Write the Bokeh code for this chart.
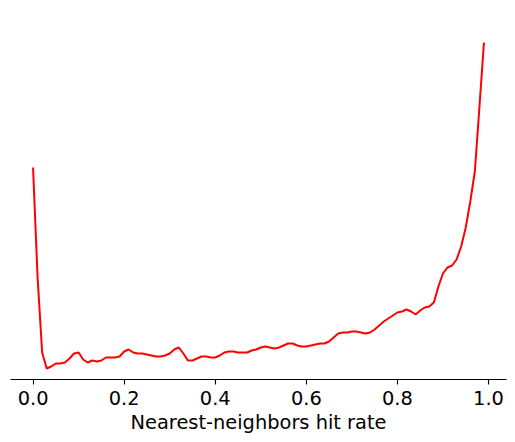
from bokeh.plotting import figure
from bokeh.models import Range1d, FixedTicker
from bokeh.embed import file_html
from bokeh.resources import INLINE

# hit rate bins (0.00 .. 0.99)
hit_rate = [round(i * 0.01, 2) for i in range(100)]
# density values
density = [
    2.12, 1.02, 0.27, 0.11, 0.13, 0.16, 0.16, 0.17, 0.21, 0.26,
    0.27, 0.20, 0.17, 0.19, 0.18, 0.19, 0.22, 0.22, 0.22, 0.23,
    0.28, 0.30, 0.27, 0.26, 0.26, 0.25, 0.24, 0.23, 0.23, 0.24,
    0.26, 0.30, 0.32, 0.26, 0.19, 0.19, 0.21, 0.23, 0.23, 0.22,
    0.22, 0.24, 0.27, 0.28, 0.28, 0.27, 0.27, 0.27, 0.29, 0.30,
    0.32, 0.33, 0.32, 0.31, 0.32, 0.34, 0.36, 0.36, 0.34, 0.33,
    0.33, 0.34, 0.35, 0.36, 0.36, 0.38, 0.42, 0.46, 0.47, 0.47,
    0.48, 0.48, 0.47, 0.46, 0.47, 0.50, 0.54, 0.58, 0.61, 0.64,
    0.67, 0.68, 0.70, 0.68, 0.65, 0.69, 0.72, 0.73, 0.77, 0.93,
    1.06, 1.12, 1.14, 1.20, 1.33, 1.52, 1.78, 2.08, 2.72, 3.37,
]
x_ticks = [0.0, 0.2, 0.4, 0.6, 0.8, 1.0]
x_tick_labels = {0.0: "0.0", 0.2: "0.2", 0.4: "0.4", 0.6: "0.6", 0.8: "0.8", 1.0: "1.0"}
x_label = "Nearest-neighbors hit rate"

pad = 0.05 * (max(hit_rate) - min(hit_rate))
p = figure(
    frame_width=496, frame_height=361,
    x_range=Range1d(min(hit_rate) - pad, max(hit_rate) + pad),
    y_range=Range1d(0, 3.61),
    y_axis_location=None,
    output_backend="svg", toolbar_location=None,
    min_border_left=10, min_border_right=1, min_border_top=18, min_border_bottom=0,
)
p.outline_line_color = None
p.grid.visible = False
p.background_fill_color = "white"

p.line(hit_rate, density, line_color="#ff0000", line_width=2)

ax = p.xaxis[0]
ax.ticker = FixedTicker(ticks=x_ticks)
ax.major_label_overrides = x_tick_labels
ax.axis_label = x_label
ax.axis_label_text_font = "DejaVu Sans"
ax.axis_label_text_font_size = "19.4px"
ax.axis_label_text_font_style = "normal"
ax.axis_label_text_color = "black"
ax.axis_label_standoff = 3
ax.major_label_text_font = "DejaVu Sans"
ax.major_label_text_font_size = "19.4px"
ax.major_label_text_color = "black"
ax.major_label_standoff = 6
ax.major_tick_out = 5
ax.major_tick_in = 0
ax.minor_tick_out = 0
ax.minor_tick_in = 0
ax.axis_line_color = "black"
ax.axis_line_width = 1.1
ax.major_tick_line_width = 1.1

open("out.html", "w").write(file_html(p, INLINE))
